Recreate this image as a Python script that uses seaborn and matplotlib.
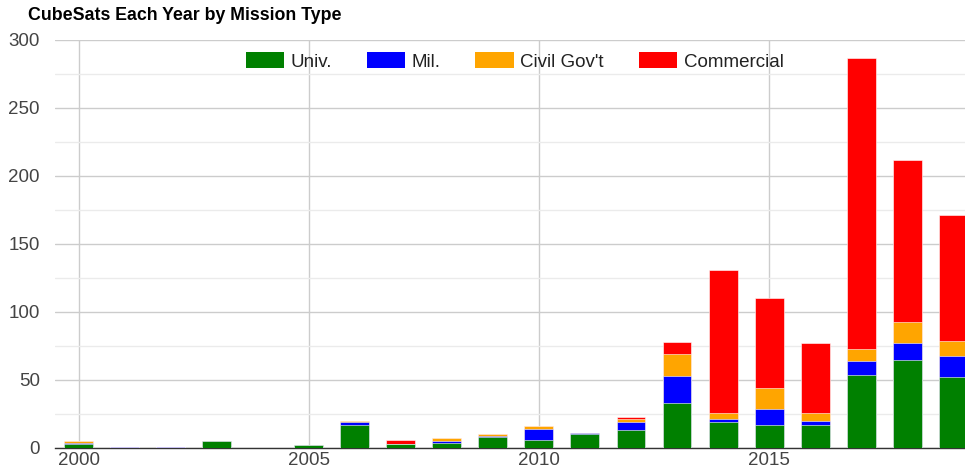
import matplotlib
matplotlib.use("Agg")
import matplotlib.pyplot as plt
from matplotlib.patches import Patch
from matplotlib.ticker import MultipleLocator
import seaborn as sns
import pandas as pd
import numpy as np

years = list(range(2000, 2020))
univ       = [3, 0, 0, 5, 0, 2, 17, 3, 4, 8, 6, 10, 13, 33, 19, 17, 17, 54, 65, 52]
mil        = [1, 1, 1, 0, 0, 0, 2, 0, 1, 1, 8, 1, 6, 20, 2, 12, 3, 10, 12, 16]
civil      = [1, 0, 0, 0, 0, 0, 1, 0, 2, 1, 2, 0, 2, 16, 5, 15, 6, 9, 16, 11]
commercial = [0, 0, 0, 0, 0, 0, 0, 3, 0, 0, 0, 0, 2, 9, 105, 66, 51, 214, 119, 92]

labels = ["Univ.", "Mil.", "Civil Gov't", "Commercial"]
colors = ["#008000", "#0000ff", "#ffa500", "#ff0000"]
series = [univ, mil, civil, commercial]

sns.set_theme(style="white")
plt.rcParams["font.family"] = ["Liberation Sans", "DejaVu Sans"]

fig = plt.figure(figsize=(9.65, 4.74), dpi=100)
ax = fig.add_axes([55/965, 26/474, 910/965, 408/474])

cum = np.cumsum(np.array(series), axis=0)
for i in range(len(series) - 1, -1, -1):
    df = pd.DataFrame({"year": years, "value": cum[i]})
    sns.barplot(data=df, x="year", y="value", native_scale=True, width=0.63,
                color=colors[i], saturation=1, edgecolor="white", linewidth=0.4,
                ax=ax, zorder=3)

ax.set_xlim(1999.48, 2019.26)
ax.set_ylim(0, 300)
ax.yaxis.set_major_locator(MultipleLocator(50))
ax.yaxis.set_minor_locator(MultipleLocator(25))
ax.set_xticks([2000, 2005, 2010, 2015])
ax.set_xticklabels(["2000", "2005", "2010", "2015"])
ax.grid(True, which="major", axis="both", color="#cccccc", linewidth=1, zorder=0)
ax.grid(True, which="minor", axis="y", color="#ebebeb", linewidth=1, zorder=0)
ax.set_axisbelow(True)
for s in ["top", "right", "left"]:
    ax.spines[s].set_visible(False)
ax.spines["bottom"].set_color("#333333")
ax.spines["bottom"].set_linewidth(1.0)
ax.spines["bottom"].set_zorder(2.5)
ax.tick_params(axis="both", which="both", length=0, labelsize=13.5, colors="#444444")
ax.tick_params(axis="y", pad=11)
ax.tick_params(axis="x", pad=3)
ax.set_xlabel("")
ax.set_ylabel("")

handles = [Patch(facecolor=c, edgecolor="none") for c in colors]
ax.legend(handles, labels, loc="upper center", bbox_to_anchor=(0.505, 1.012),
          ncol=4, frameon=False, fontsize=13.5, handlelength=2.03, handleheight=0.97,
          handletextpad=0.37, columnspacing=1.85, labelcolor="#222222")

fig.text(28/965, 1 - 15/474, "CubeSats Each Year by Mission Type", fontsize=12.8,
         fontweight="bold", color="#000000", va="center", ha="left")

fig.savefig("out.png", dpi=100, facecolor="white")
